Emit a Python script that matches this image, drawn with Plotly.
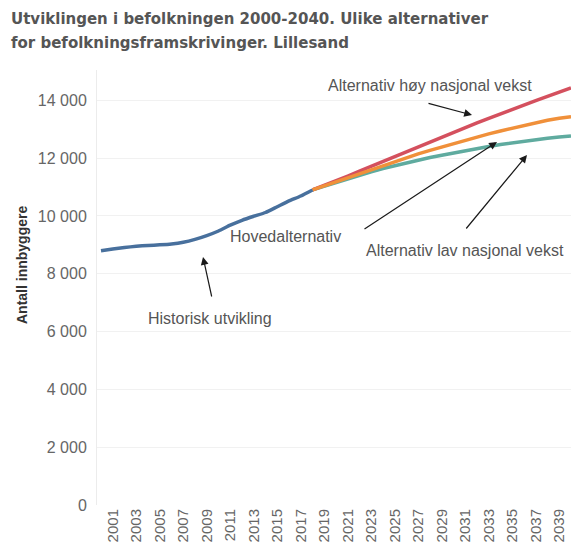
import plotly.graph_objects as go

hist_years = list(range(2000, 2019))
hist_vals = [8800, 8860, 8910, 8950, 8980, 9000, 9030, 9090, 9190, 9320,
             9480, 9680, 9850, 9990, 10120, 10320, 10520, 10690, 10900]

proj_years = list(range(2018, 2041))
high_vals = [10900, 11050, 11210, 11380, 11550, 11720, 11890, 12060, 12230, 12400,
             12570, 12740, 12900, 13060, 13220, 13380, 13540, 13690, 13840, 13990,
             14140, 14290, 14430]
main_vals = [10900, 11040, 11190, 11340, 11480, 11620, 11760, 11890, 12020, 12150,
             12270, 12390, 12510, 12620, 12730, 12840, 12940, 13040, 13140, 13230,
             13310, 13380, 13430]
low_vals = [10900, 11030, 11160, 11290, 11410, 11530, 11640, 11740, 11840, 11930,
            12020, 12100, 12180, 12260, 12330, 12400, 12470, 12530, 12590, 12640,
            12690, 12730, 12770]

x_ticks = list(range(2001, 2040, 2))
y_ticks = [0, 2000, 4000, 6000, 8000, 10000, 12000, 14000]
y_tick_text = ["0", "2 000", "4 000", "6 000", "8 000", "10 000", "12 000", "14 000"]

title_lines = ["Utviklingen i befolkningen 2000-2040. Ulike alternativer",
               "for befolkningsframskrivinger. Lillesand"]
y_title = "Antall innbyggere"

C_HIST = "#48709d"
C_HIGH = "#d4505e"
C_MAIN = "#f0903a"
C_LOW = "#5fab9f"

fig = go.Figure()
fig.add_trace(go.Scatter(x=proj_years, y=low_vals, mode="lines",
                         line=dict(color=C_LOW, width=3.5), name="Lav"))
fig.add_trace(go.Scatter(x=proj_years, y=high_vals, mode="lines",
                         line=dict(color=C_HIGH, width=3.5), name="Høy"))
fig.add_trace(go.Scatter(x=proj_years, y=main_vals, mode="lines",
                         line=dict(color=C_MAIN, width=3.5), name="Hoved"))
fig.add_trace(go.Scatter(x=hist_years, y=hist_vals, mode="lines",
                         line=dict(color=C_HIST, width=3.5, shape="spline", smoothing=0.5),
                         name="Historisk"))

L, R, T, B = 97, 0, 70, 41
W, H = 571, 546

def px2x(px):
    return 1999.66 + (px - L) / ((W - L - R) / (2040.0 - 1999.66))

def py2y(py):
    return (505 - py) / (435 / 15050)

ann_font = dict(family="Liberation Sans, Arial", size=16, color="#555555")
annotations = []
arrows = [
    ("Alternativ høy nasjonal vekst", (430, 85), (427, 103), (472, 115)),
    ("Hovedalternativ", (285, 236), (363, 230), (497, 142)),
    ("Alternativ lav nasjonal vekst", (465, 250), (465, 230), (527, 155)),
    ("Historisk utvikling", (210, 318), (212, 298), (203, 257)),
]
for text, tpos, tail, head in arrows:
    annotations.append(dict(x=px2x(tpos[0]), y=py2y(tpos[1]), xref="x", yref="y",
                            text=text, showarrow=False, font=ann_font,
                            xanchor="center", yanchor="middle"))
    annotations.append(dict(x=px2x(head[0]), y=py2y(head[1]), xref="x", yref="y",
                            ax=px2x(tail[0]), ay=py2y(tail[1]), axref="x", ayref="y",
                            text="", showarrow=True, arrowhead=2, arrowsize=1.3,
                            arrowwidth=1.2, arrowcolor="#1a1a1a"))

pw = W - L - R
ph = H - T - B
for i, line in enumerate(title_lines):
    annotations.append(dict(x=(9 - L) / pw, y=(H - B - (19 + 24 * i)) / ph,
                            xref="paper", yref="paper", text=line, showarrow=False,
                            xanchor="left", yanchor="middle",
                            font=dict(family="DejaVu Sans", size=15, color="#555555",
                                      weight="bold")))
annotations.append(dict(x=(22 - L) / pw, y=(H - B - 265) / ph, xref="paper", yref="paper",
                        text="<b>" + y_title + "</b>", textangle=-90, showarrow=False,
                        xanchor="center", yanchor="middle",
                        font=dict(family="Liberation Sans, Arial", size=14, color="#333333")))

fig.update_layout(
    width=W, height=H,
    margin=dict(l=L, r=R, t=T, b=B, pad=0),
    paper_bgcolor="white", plot_bgcolor="white",
    showlegend=False,
    annotations=annotations,
    xaxis=dict(range=[1999.66, 2040.0], tickmode="array", tickvals=x_ticks,
               tickangle=-90, showgrid=False, zeroline=False, showline=False,
               ticks="", tickfont=dict(family="Liberation Sans, Arial", size=15, color="#666666")),
    yaxis=dict(range=[0, 15050], tickmode="array", tickvals=y_ticks, ticktext=y_tick_text,
               showgrid=True, gridcolor="#f1f1f1", gridwidth=1, zeroline=False,
               showline=True, linecolor="#ececec", linewidth=1, ticks="",
               ticklabelstandoff=6,
               tickfont=dict(family="Liberation Sans, Arial", size=16, color="#666666")),
)

fig.write_html("out.html")
